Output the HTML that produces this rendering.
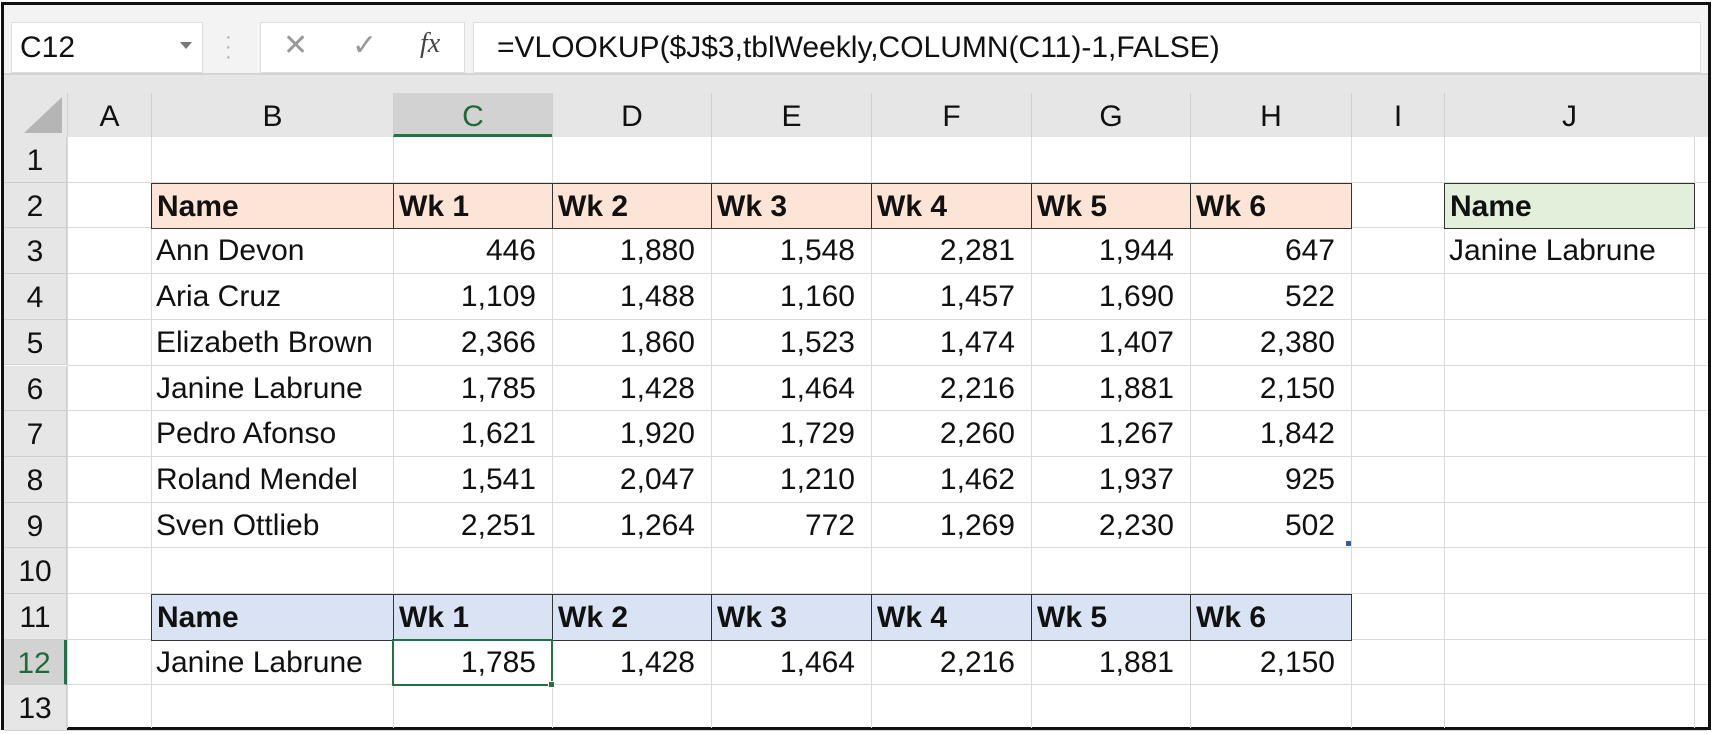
<!DOCTYPE html>
<html><head><meta charset="utf-8">
<style>
*{box-sizing:border-box;margin:0;padding:0}
body{width:1713px;height:734px;background:#fff;position:relative;overflow:hidden;font-family:"Liberation Sans",sans-serif;color:#111}
.a{position:absolute}
.cell{position:absolute;font-size:30px;line-height:46px;white-space:nowrap;overflow:visible}
.num{text-align:right;padding-right:16px}
.txt{padding-left:5px}
.b{font-weight:bold}
</style></head><body>
<div class="a" style="left:1px;top:2px;width:1710px;height:728px;border:3px solid #111;background:#fff"></div>
<div class="a" style="left:4px;top:5px;width:1704px;height:68px;background:#f3f3f3"></div>
<div class="a" style="left:11px;top:22px;width:192px;height:51px;background:#fff;border:1px solid #ddd;font-size:30px;line-height:49px;padding-left:8px">C12</div>
<div class="a" style="left:180px;top:42px;width:0;height:0;border-left:6px solid transparent;border-right:6px solid transparent;border-top:7px solid #777"></div>
<div class="a" style="left:225px;top:32px;color:#aaa;font-size:20px;line-height:10px">·<br>·<br>·</div>
<div class="a" style="left:260px;top:22px;width:205px;height:51px;background:#fff;border:1px solid #ddd"></div>
<div class="a" style="left:283px;top:28px;font-size:30px;color:#999">✕</div>
<div class="a" style="left:352px;top:28px;font-size:30px;color:#999">✓</div>
<div class="a" style="left:420px;top:28px;font-size:28px;font-style:italic;font-family:'Liberation Serif',serif;color:#444">fx</div>
<div class="a" style="left:473px;top:22px;width:1228px;height:51px;background:#fff;border:1px solid #ddd;font-size:30px;line-height:49px;padding-left:23px">=VLOOKUP($J$3,tblWeekly,COLUMN(C11)-1,FALSE)</div>
<div class="a" style="left:4px;top:73px;width:1704px;height:64px;background:#e6e6e6;border-top:2px solid #d4d4d4"></div>
<div class="a" style="left:24px;top:97px;width:0;height:0;border-left:38px solid transparent;border-bottom:36px solid #b5b5b5"></div>
<div id="grid"></div>
<script>
const colEdges=[4,67,151,393,552,711,871,1031,1190,1351,1444,1694,1707];
const colLetters=["A","B","C","D","E","F","G","H","I","J"];
const rowTop=137, rowH=45.7, nRows=13;
const names=["Ann Devon","Aria Cruz","Elizabeth Brown","Janine Labrune","Pedro Afonso","Roland Mendel","Sven Ottlieb"];
const wk1=[446,1109,2366,1785,1621,1541,2251];
const wk2=[1880,1488,1860,1428,1920,2047,1264];
const wk3=[1548,1160,1523,1464,1729,1210,772];
const wk4=[2281,1457,1474,2216,2260,1462,1269];
const wk5=[1944,1690,1407,1881,1267,1937,2230];
const wk6=[647,522,2380,2150,1842,925,502];
const headers=["Name","Wk 1","Wk 2","Wk 3","Wk 4","Wk 5","Wk 6"];
const lookupName="Janine Labrune";
const g=document.getElementById('grid');
function mk(cls,css,txt){const d=document.createElement('div');d.className=cls;d.style.cssText=css;if(txt!==undefined)d.textContent=txt;g.appendChild(d);return d;}
const fmt=v=>v.toLocaleString('en-US');
const Y=r=>rowTop+(r-1)*rowH;
const X=c=>colEdges[c+1];
const W=c=>colEdges[c+2]-colEdges[c+1];
for(let r=1;r<=nRows;r++){const l=mk('a',`left:67px;top:${Y(r)+rowH-1}px;width:1640px;height:1px;background:#dadada`);

}
for(let c=1;c<colEdges.length-1;c++){const l=mk('a',`left:${colEdges[c]}px;top:137px;width:1px;height:591px;background:#dadada`);

}
colLetters.forEach((L,i)=>{const sel=L==="C";
const h=mk('a',`left:${X(i)}px;top:93px;width:${W(i)}px;height:44px;border-left:1px solid #cfcfcf;text-align:center;font-size:30px;line-height:48px;${sel?'background:#d2d2d2;color:#1e6b3a;border-bottom:3px solid #217346;':''}`,L);

});
for(let r=1;r<=nRows;r++){const sel=r===12;
const h=mk('a',`left:4px;top:${Y(r)}px;width:63px;height:${rowH}px;background:${sel?'#d2d2d2':'#e6e6e6'};border-bottom:1px solid #cfcfcf;${sel?'border-right:3px solid #217346;color:#1e6b3a;':'border-right:1px solid #cfcfcf;'}font-size:30px;line-height:${rowH+2}px;text-align:center`,String(r));

}
function hdrRow(r,bg,nm){headers.forEach((t,i)=>{const c=mk('cell txt b',`left:${X(i+1)}px;top:${Y(r)}px;width:${W(i+1)+1}px;height:${rowH+1}px;background:${bg};border:1px solid #333`,t);

});}
hdrRow(2,'#fce4d6','weekly-header');
hdrRow(11,'#dae3f3','result-header');
const series=[wk1,wk2,wk3,wk4,wk5,wk6];
names.forEach((n,k)=>{const r=3+k;
const c=mk('cell txt',`left:${X(1)}px;top:${Y(r)}px;width:${W(1)}px`,n);


series.forEach((s,j)=>{const v=mk('cell num',`left:${X(j+2)}px;top:${Y(r)}px;width:${W(j+2)}px`,fmt(s[k]));

});});
const idx=names.indexOf(lookupName);
const rn=mk('cell txt',`left:${X(1)}px;top:${Y(12)}px;width:${W(1)}px`,lookupName);


series.forEach((s,j)=>{const v=mk('cell num',`left:${X(j+2)}px;top:${Y(12)}px;width:${W(j+2)}px`,fmt(s[idx]));

});
const sel=mk('a',`left:${X(2)-1}px;top:${Y(12)-1}px;width:${W(2)+2}px;height:${rowH+2}px;border:2px solid #217346`);


const fh=mk('a',`left:${X(2)+W(2)-4}px;top:${Y(12)+rowH-4}px;width:7px;height:7px;background:#217346;border:1px solid #fff`);


const th=mk('a',`left:${X(7)+W(7)-5}px;top:${Y(9)+rowH-7}px;width:5px;height:5px;background:#3b5ba5`);


const jh=mk('cell txt b',`left:${X(9)}px;top:${Y(2)}px;width:${W(9)+1}px;height:${rowH+1}px;background:#e2efda;border:1px solid #333`,'Name');


const jv=mk('cell txt',`left:${X(9)}px;top:${Y(3)}px;width:${W(9)}px`,lookupName);


</script>
</body></html>
